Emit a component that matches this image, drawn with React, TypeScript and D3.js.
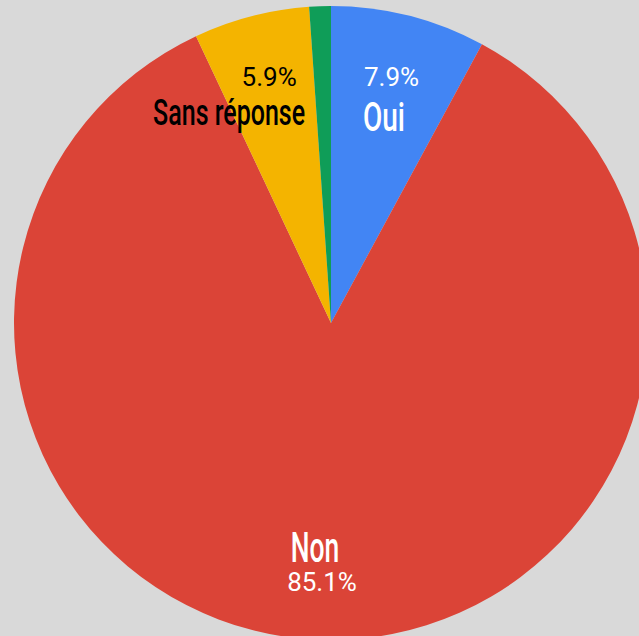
import React from "react";
import * as d3 from "d3";

const categories = ["Oui", "Non", "Sans réponse", "Autre"];
const values = [7.9, 85.1, 5.9, 1.1];
const colors = ["#4285f4", "#db4437", "#f4b400", "#0f9d58"];
const showLabel = [true, true, true, false];
const textColors = ["#ffffff", "#ffffff", "#000000", "#ffffff"];

// label layout per slice (offsets from centroid at label radius)
const labelLayout = [
  { pdx: 4, pdy: -14, ndx: -3.5, ndy: 31, nSize: 41, nWidth: 42 },
  { pdx: -2.5, pdy: 38, ndx: -9.5, ndy: 9, nSize: 42, nWidth: 48.5 },
  { pdx: -4, pdy: -14.5, ndx: -44, ndy: 25, nSize: 36, nWidth: 152 },
  { pdx: 0, pdy: 0, ndx: 0, ndy: 0, nSize: 0, nWidth: 0 },
];

const W = 639;
const H = 636;
const cx = 331;
const cy = 323;
const R = 317;
const labelR = 230;

export default function App() {
  const pie = d3
    .pie<number>()
    .sort(null)
    .value((d) => d);
  const arcs = pie(values);
  const arc = d3.arc<d3.PieArcDatum<number>>().innerRadius(0).outerRadius(R);
  const labelArc = d3
    .arc<d3.PieArcDatum<number>>()
    .innerRadius(labelR)
    .outerRadius(labelR);

  return (
    <svg
      width={W}
      height={H}
      style={{ position: "absolute", left: 0, top: 0, display: "block" }}
    >
      <rect x={0} y={0} width={W} height={H} fill="#d9d9d9" />
      <g transform={`translate(${cx},${cy})`}>
        {arcs.map((a, i) => (
          <path key={i} d={arc(a) || ""} fill={colors[i]} />
        ))}
        {arcs.map((a, i) => {
          if (!showLabel[i]) return null;
          const [x, y] = labelArc.centroid(a);
          const L = labelLayout[i];
          return (
            <g key={"l" + i}>
              <text
                x={x + L.pdx}
                y={y + L.pdy}
                textAnchor="middle"
                fontFamily="Roboto, sans-serif"
                fontSize={26}
                fill={textColors[i]}
              >
                {values[i].toFixed(1) + "%"}
              </text>
              <text
                x={x + L.ndx - L.nWidth / 2}
                y={y + L.ndy}
                fontFamily="Roboto, sans-serif"
                fontWeight={500}
                fontSize={L.nSize}
                fill={textColors[i]}
                textLength={L.nWidth}
                lengthAdjust="spacingAndGlyphs"
              >
                {categories[i]}
              </text>
            </g>
          );
        })}
      </g>
    </svg>
  );
}
